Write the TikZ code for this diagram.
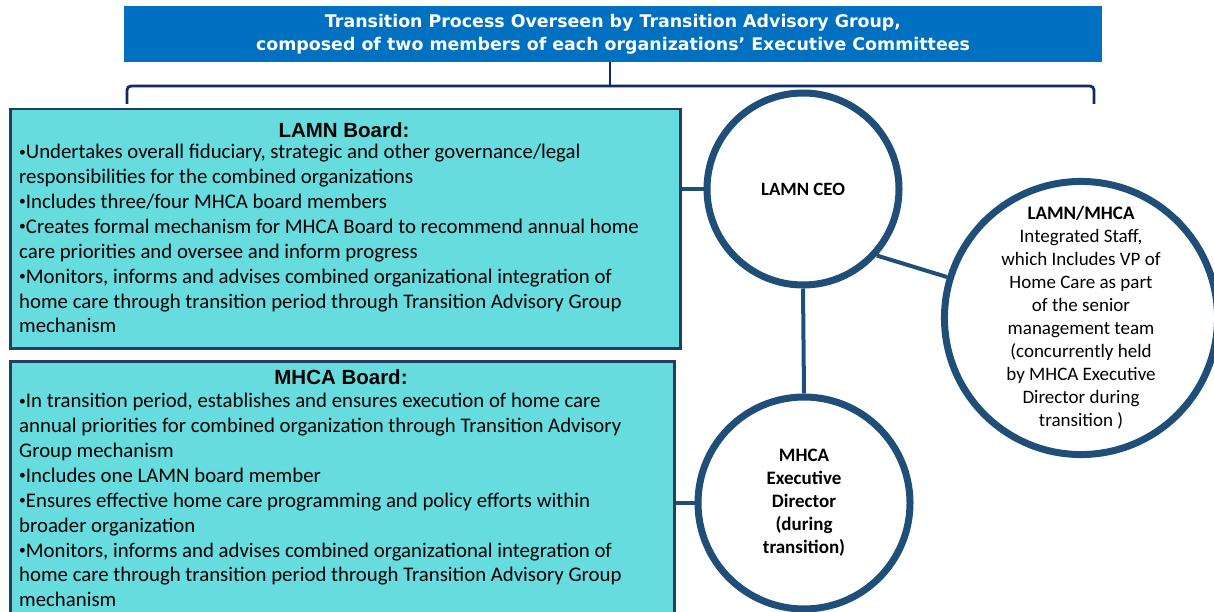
\documentclass[tikz,border=0pt]{standalone}
\usepackage{fontspec}
\setmainfont{Carlito}
\newfontfamily\headfont{DejaVu Sans}
\newfontfamily\titlefont{Liberation Sans}
\definecolor{topblue}{HTML}{0070C0}
\definecolor{navy}{HTML}{10296B}
\definecolor{boxfill}{HTML}{66DCDF}
\definecolor{boxline}{HTML}{233E64}
\definecolor{ringblue}{HTML}{1F4E79}
% small list bullet
\newcommand\bul{\raisebox{0.12em}{\scalebox{0.65}{•}}}
\begin{document}
\begin{tikzpicture}[x=1pt,y=-1pt,
  banner/.style={fill=topblue,draw=none,minimum width=978pt,minimum height=56pt,anchor=north west,inner sep=0pt},
  board/.style={fill=boxfill,draw=boxline,line width=2.5pt,anchor=north west,inner sep=0pt},
  boardtext/.style={anchor=north west,inner sep=0pt,align=left,font=\fontsize{20.8}{24.9}\selectfont},
  boardhead/.style={anchor=center,inner sep=0pt,font=\titlefont\bfseries\fontsize{20.5}{22}\selectfont},
  ring/.style={circle,draw=ringblue,line width=7pt,fill=white,inner sep=0pt,align=center},
  link/.style={draw=ringblue,line width=4pt},
  brace/.style={draw=navy,line width=2.8pt,rounded corners=4pt}
]
\useasboundingbox (0,0) rectangle (1214,612);

% heading banner
\node[banner] (banner) at (124,6) {};
\node[text=white,align=center,inner sep=0pt,font=\headfont\bfseries\fontsize{17.4}{23}\selectfont]
  (bannertext) at (613,34) {Transition Process Overseen by Transition Advisory Group,\\
  composed of two members of each organizations’ Executive Committees};

% bracket under the banner
\coordinate (bl) at (127,104);
\coordinate (br) at (1094,104);
\coordinate (bt) at (610,86);
\draw[brace] (bl) -- (127,86) -- (1094,86) -- (br);
\draw[navy,line width=2.8pt] (banner.south -| bt) -- (bt);

% boards
\node[board,minimum width=670pt,minimum height=239pt] (lamn) at (9,108) {};
\node[board,minimum width=664pt,minimum height=262pt] (mhca) at (9,360) {};

\node[boardhead] (lamnhead) at (344,130) {LAMN Board:};
\node[boardtext] (lamntext) at (19,144) {%
\bul Undertakes overall fiduciary, strategic and other governance/legal\\
responsibilities for the combined organizations\\
\bul Includes three/four MHCA board members\\
\bul Creates formal mechanism for MHCA Board to recommend annual home\\
care priorities and oversee and inform progress\\
\bul Monitors, informs and advises combined organizational integration of\\
home care through transition period through Transition Advisory Group\\
mechanism};

\node[boardhead] (mhcahead) at (341,377) {MHCA Board:};
\node[boardtext] (mhcatext) at (19,393) {%
\bul In transition period, establishes and ensures execution of home care\\
annual priorities for combined organization through Transition Advisory\\
Group mechanism\\
\bul Includes one LAMN board member\\
\bul Ensures effective home care programming and policy efforts within\\
broader organization\\
\bul Monitors, informs and advises combined organizational integration of\\
home care through transition period through Transition Advisory Group\\
mechanism};

% circles
\node[ring,minimum size=192pt,font=\bfseries\fontsize{18.8}{23}\selectfont] (ceo) at (803,189) {LAMN CEO};
\node[ring,minimum size=254pt,font=\fontsize{19}{23}\selectfont] (staff) at (1081,318) {%
\textbf{LAMN/MHCA}\\Integrated Staff,\\which Includes VP of\\Home Care as part\\of the senior\\management team\\(concurrently held\\by MHCA Executive\\Director during\\transition )};
\node[ring,minimum size=212pt,font=\bfseries\fontsize{19}{23}\selectfont] (ed) at (804,503) {%
MHCA\\Executive\\Director\\(during\\transition)};

% connectors
\path[link] (lamn.east |- ceo.west) -- (ceo.west);
\path[link] (mhca.east |- ed.west) -- (ed.west);
\path[link] (ceo.south) -- (ed.north);
\path[link] (ceo.-42) -- (staff.163);
\end{tikzpicture}
\end{document}
